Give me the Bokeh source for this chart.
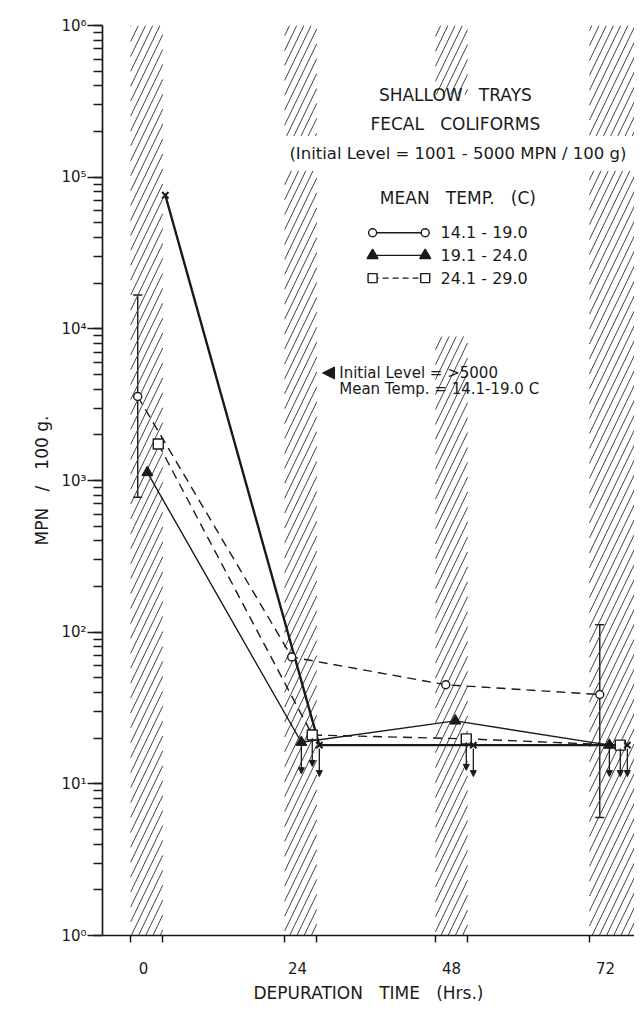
import math
from bokeh.plotting import figure
from bokeh.models import (Range1d, FixedTicker, Label, Whisker, Arrow, NormalHead,
                          TeeHead, ColumnDataSource)
from bokeh.embed import file_html
from bokeh.resources import INLINE

FONT = "DejaVu Sans"
INK = "#1a1a1a"
SP = "\u00a0"

# ---------------- data ----------------
hours = [0, 24, 48, 72]
hour_labels = ["0", "24", "48", "72"]

temp_14_19 = [3580, 68.6, 45, 38.8]        # open circles
temp_19_24 = [1130, 18.8, 26, 18]          # filled triangles
temp_24_29 = [1740, 21, 19.8, 18]          # open squares
initial_gt5000 = [76000, 18, 18, 18]       # x marks (initial level > 5000, 14.1-19.0 C)

lt_19_24 = [False, True, False, True]      # "less than" values (arrow down)
lt_24_29 = [False, True, True, True]
lt_gt5000 = [False, True, True, True]

err_hours = [0, 72]                        # range bars for 14.1-19.0 series
err_low = [776, 6.0]
err_high = [16700, 112]

# hatched periods (hours) and their vertical extents
band_left = [-2, 22, 22, 45.5, 45.5, 69.5, 69.5]
band_right = [3, 27, 27, 50.5, 50.5, 78, 78]
band_bottom = [1, 1, 187000, 1, 351000, 1, 187000]
band_top = [1e6, 110000, 1e6, 8900, 1e6, 110000, 1e6]

series_names = ["14.1 - 19.0", "19.1 - 24.0", "24.1 - 29.0"]

# ---------------- figure geometry ----------------
W, H = 634, 1005
FL, FT, FB = 102, 25, 58            # frame borders (px)
X_START, X_END = -6.389, 76.516
Y_START, Y_END = 1, 1e6

p = figure(width=W, height=H, x_range=Range1d(X_START, X_END), y_range=Range1d(Y_START, Y_END),
           y_axis_type="log", output_backend="svg", toolbar_location=None,
           min_border_left=FL, min_border_right=0, min_border_top=FT, min_border_bottom=FB)
p.outline_line_color = None
p.xgrid.visible = False
p.ygrid.visible = False
p.background_fill_color = "white"
p.border_fill_color = "white"

FW = W - FL
FH = H - FT - FB

def to_px(h, v):
    return (FL + (h - X_START) / (X_END - X_START) * FW,
            FT + (math.log10(Y_END) - math.log10(v)) / (math.log10(Y_END) - math.log10(Y_START)) * FH)

def to_data(x, y):
    h = X_START + (x - FL) / FW * (X_END - X_START)
    lv = math.log10(Y_END) - (y - FT) / FH * (math.log10(Y_END) - math.log10(Y_START))
    return h, 10 ** lv

# hatching: steep parallel strokes drawn inside each band rectangle
SLOPE, STEP = 2.1, 7.2
ybase = FT + FH
hx0, hy0, hx1, hy1 = [], [], [], []
for l, r, b, t in zip(band_left, band_right, band_bottom, band_top):
    xa, yb = to_px(l, b)
    xb, ya = to_px(min(r, X_END), t)
    k0 = math.floor((xa - (ybase - ya) / SLOPE - FL) / STEP)
    k1 = math.ceil((xb - FL) / STEP)
    for k in range(k0, k1 + 1):
        c = FL + k * STEP
        y_lo = max(ya, ybase - SLOPE * (xb - c))
        y_hi = min(yb, ybase - SLOPE * (xa - c))
        if y_hi - y_lo > 1:
            x_a = c + (ybase - y_hi) / SLOPE
            x_b = c + (ybase - y_lo) / SLOPE
            d0 = to_data(x_a, y_hi)
            d1 = to_data(x_b, y_lo)
            hx0.append(d0[0]); hy0.append(d0[1]); hx1.append(d1[0]); hy1.append(d1[1])
p.segment(hx0, hy0, hx1, hy1, line_color="#444444", line_width=1.0)

off_c, off_t, off_s, off_x = -0.9, 0.6, 2.3, 3.4

def shift(xs, d):
    return [x + d for x in xs]

# error bars
src_err = ColumnDataSource(dict(x=shift(err_hours, off_c), lo=err_low, hi=err_high))
p.add_layout(Whisker(source=src_err, base="x", lower="lo", upper="hi", dimension="height",
                     line_color=INK, line_width=1.4,
                     upper_head=TeeHead(size=9, line_color=INK, line_width=1.4),
                     lower_head=TeeHead(size=9, line_color=INK, line_width=1.4)))

# lines
p.line(shift(hours, off_x), initial_gt5000, line_color=INK, line_width=2.4)
p.line(shift(hours, off_t), temp_19_24, line_color=INK, line_width=1.4)
p.line(shift(hours, off_s), temp_24_29, line_color=INK, line_width=1.4, line_dash="9 6")
p.line(shift(hours, off_c), temp_14_19, line_color=INK, line_width=1.4, line_dash="9 6")

# markers
p.scatter(shift(hours, off_c), temp_14_19, marker="circle", size=8, fill_color="white",
          line_color=INK, line_width=1.4)
p.scatter(shift(hours, off_t), temp_19_24, marker="triangle", size=11, fill_color=INK,
          line_color=INK)
p.scatter(shift(hours, off_s), temp_24_29, marker="square", size=10, fill_color="white",
          line_color=INK, line_width=1.4)
p.scatter(shift(hours, off_x), initial_gt5000, marker="x", size=9, line_color=INK, line_width=2)

# "less than" arrows
for xs, ys, flags, d in [(hours, temp_19_24, lt_19_24, off_t),
                         (hours, temp_24_29, lt_24_29, off_s),
                         (hours, initial_gt5000, lt_gt5000, off_x)]:
    for x, y, f in zip(xs, ys, flags):
        if f:
            p.add_layout(Arrow(x_start=x + d, y_start=y * 0.95, x_end=x + d, y_end=y * 0.62,
                               line_color=INK, line_width=1.3,
                               end=NormalHead(size=6, fill_color=INK, line_color=INK)))

# ---------------- axes ----------------
p.yaxis.major_label_overrides = {1: "10⁰", 10: "10¹", 100: "10²", 1000: "10³",
                                 10000: "10⁴", 100000: "10⁵", 1000000: "10⁶"}
p.yaxis.axis_line_width = 1.7
p.yaxis.axis_line_color = INK
p.yaxis.major_tick_out = 15
p.yaxis.major_tick_in = 0
p.yaxis.minor_tick_out = 9
p.yaxis.minor_tick_in = 0
p.yaxis.major_tick_line_width = 1.5
p.yaxis.minor_tick_line_width = 1.5
p.yaxis.major_tick_line_color = INK
p.yaxis.minor_tick_line_color = INK
p.yaxis.major_label_standoff = 1
p.yaxis.major_label_text_font = FONT
p.yaxis.major_label_text_font_size = "15px"
p.yaxis.major_label_text_color = INK
p.yaxis.axis_label = "MPN" + SP * 3 + "/" + SP * 3 + "100 g."
p.yaxis.axis_label_text_font = FONT
p.yaxis.axis_label_text_font_size = "17px"
p.yaxis.axis_label_text_font_style = "normal"
p.yaxis.axis_label_text_color = INK
p.yaxis.axis_label_standoff = 6

p.xaxis.ticker = FixedTicker(ticks=hours, minor_ticks=[-2, 3, 22, 27, 45.5, 50.5, 69.5])
p.xaxis.major_label_overrides = {h: s for h, s in zip(hours, hour_labels)}
p.xaxis.axis_line_width = 1.7
p.xaxis.axis_line_color = INK
p.xaxis.major_tick_out = 0
p.xaxis.major_tick_in = 0
p.xaxis.minor_tick_out = 7
p.xaxis.minor_tick_in = 0
p.xaxis.minor_tick_line_width = 1.5
p.xaxis.minor_tick_line_color = INK
p.xaxis.major_label_standoff = 19
p.xaxis.major_label_text_font = FONT
p.xaxis.major_label_text_font_size = "15px"
p.xaxis.major_label_text_color = INK
p.xaxis.axis_label = "DEPURATION" + SP * 3 + "TIME" + SP * 3 + "(Hrs.)"
p.xaxis.axis_label_text_font = FONT
p.xaxis.axis_label_text_font_size = "17px"
p.xaxis.axis_label_text_font_style = "normal"
p.xaxis.axis_label_text_color = INK
p.xaxis.axis_label_standoff = 6

# ---------------- text block / legend ----------------
def lbl(x, y, t, size="14px", align="center"):
    p.add_layout(Label(x=x, y=y, text=t, text_font=FONT, text_font_size=size,
                       text_align=align, text_baseline="middle", text_color=INK))

lbl(48.6, 350000, "SHALLOW" + SP * 3 + "TRAYS", "17px")
lbl(48.6, 223000, "FECAL" + SP * 3 + "COLIFORMS", "17px")
lbl(49.0, 142600, "(Initial Level = 1001 - 5000 MPN / 100 g)", "16.5px")
lbl(49.0, 72600, "MEAN" + SP * 3 + "TEMP." + SP * 3 + "(C)", "17px")

leg_x0, leg_x1, leg_tx = 35.7, 43.9, 46.3
leg_y = [43000, 30500, 21600]
leg_style = [("circle", "white", 8, None), ("triangle", INK, 11, None), ("square", "white", 9, "6 4")]
for (mk, fc, sz, dash), yy, name in zip(leg_style, leg_y, series_names):
    if dash:
        p.line([leg_x0, leg_x1], [yy, yy], line_color=INK, line_width=1.4, line_dash=dash)
    else:
        p.line([leg_x0, leg_x1], [yy, yy], line_color=INK, line_width=1.4)
    p.scatter([leg_x0, leg_x1], [yy, yy], marker=mk, size=sz, fill_color=fc,
              line_color=INK, line_width=1.4)
    lbl(leg_tx, yy, name, "16px", "left")

# annotation for >5000 series
p.add_layout(Arrow(x_start=29.6, y_start=5120, x_end=27.9, y_end=5120, line_color=INK,
                   line_width=1, end=NormalHead(size=12, fill_color=INK, line_color=INK)))
lbl(30.5, 5120, "Initial Level = >5000", "15px", "left")
lbl(30.5, 4030, "Mean Temp. = 14.1-19.0 C", "15px", "left")

open("out.html", "w").write(file_html(p, INLINE))
